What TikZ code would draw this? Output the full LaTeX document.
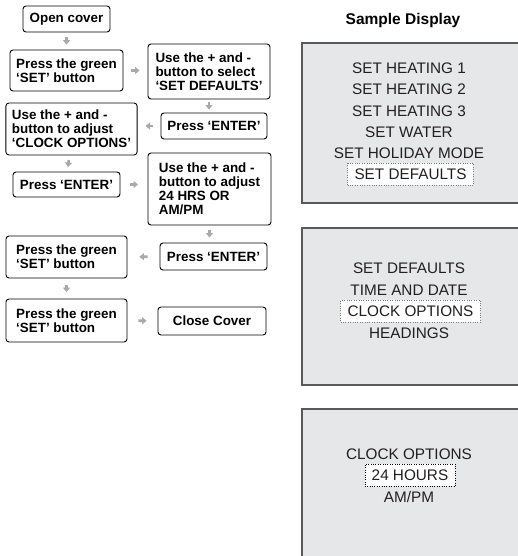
\documentclass[tikz,border=0pt]{standalone}
\usepackage{fontspec}
\setmainfont{Liberation Sans}
\usetikzlibrary{arrows.meta}

\definecolor{arrowgrey}{HTML}{A7A9AC}
\definecolor{screengrey}{HTML}{E6E7E8}
\definecolor{framegrey}{HTML}{58595B}
\definecolor{lcdtext}{HTML}{231F20}

\tikzset{
  stepbox/.style={draw, rounded corners=3pt, line width=0.9pt,
    font=\fontsize{13.4}{14}\selectfont\bfseries, align=left,
    inner xsep=6pt, inner ysep=0pt},
  flow/.style={arrowgrey, line width=2.6pt, -{Triangle[width=7pt,length=4.5pt]},
    shorten <=#1, shorten >=#1},
  screen/.style={draw=framegrey, fill=screengrey, line width=1.1pt},
  lcd/.style={font=\fontsize{15.3}{18}\selectfont, text=lcdtext,
    text height=11pt, text depth=0pt, inner sep=0pt},
  picked/.style={lcd, fill=white, draw=gray, dotted, inner xsep=7pt, minimum height=22pt}
}

\begin{document}
\begin{tikzpicture}[x=1pt, y=-1pt]
        \useasboundingbox (0,0) rectangle (518,556);

        % Steps on the left
        \node[stepbox, minimum width=87pt, minimum height=26pt] (open) at (66.5,19) {Open cover};
        \node[stepbox, minimum width=113pt, minimum height=41pt] (green1) at (66.5,70.5) {Press the green\\‘SET’ button};
        \node[stepbox, minimum width=122pt, minimum height=55pt] (select) at (209,71.5) {Use the + and -\\button to select\\‘SET DEFAULTS’};
        \node[stepbox, minimum width=106pt, minimum height=26pt] (enter1) at (214,126) {Press ‘ENTER’};
        \node[stepbox, minimum width=129pt, minimum height=52pt] (adjclock) at (71.5,129) {Use the + and -\\button to adjust\\‘CLOCK OPTIONS’};
        \node[stepbox, minimum width=107pt, minimum height=25pt] (enter2) at (66.5,184.5) {Press ‘ENTER’};
        \node[stepbox, minimum width=123pt, minimum height=72pt] (adj24) at (209.5,189) {Use the + and -\\button to adjust\\24 HRS OR\\AM/PM};
        \node[stepbox, minimum width=107pt, minimum height=27pt] (enter3) at (213.5,256.5) {Press ‘ENTER’};
        \node[stepbox, minimum width=121pt, minimum height=42pt] (green2) at (66.5,257) {Press the green\\‘SET’ button};
        \node[stepbox, minimum width=121pt, minimum height=43pt] (green3) at (66.5,320.5) {Press the green\\‘SET’ button};
        \node[stepbox, minimum width=108pt, minimum height=28pt] (close) at (212,321) {Close Cover};

        % Small grey arrows between the steps
        \draw[flow=5pt] (open) -- (green1);
        \draw[flow=8pt] (green1.east) -- (green1.east -| select.west);
        \draw[flow=3pt] (select.south) -- (select.south |- enter1.north);
        \draw[flow=8pt] (enter1.west) -- (enter1.west -| adjclock.east);
        \draw[flow=4.5pt] (adjclock) -- (enter2);
        \draw[flow=9.5pt] (enter2.east) -- (enter2.east -| adj24.west);
        \draw[flow=5pt] (adj24.south) -- (adj24.south |- enter3.north);
        \draw[flow=12pt] (enter3) -- (green2);
        \draw[flow=6.5pt] (green2) -- (green3);
        \draw[flow=11pt] (green3) -- (close);

        % Sample display screens on the right
        \node[font=\fontsize{15.5}{18}\selectfont\bfseries] (title) at (403,20) {Sample Display};

        \draw[screen] (302,43) rectangle (525,203);
        \node[lcd] (m1a) at (409,68) {SET HEATING 1};
        \node[lcd] (m1b) at (409,89) {SET HEATING 2};
        \node[lcd] (m1c) at (409,111) {SET HEATING 3};
        \node[lcd] (m1d) at (409,132) {SET WATER};
        \node[lcd] (m1e) at (409,153) {SET HOLIDAY MODE};
        \node[picked] (m1f) at (410.5,174) {SET DEFAULTS};

        \draw[screen] (302,228) rectangle (525,385);
        \node[lcd] (m2a) at (409,268) {SET DEFAULTS};
        \node[lcd] (m2b) at (409,290) {TIME AND DATE};
        \node[picked] (m2c) at (410.5,311) {CLOCK OPTIONS};
        \node[lcd] (m2d) at (409,333) {HEADINGS};

        \draw[screen] (302,409) rectangle (525,565);
        \node[lcd] (m3a) at (409,454) {CLOCK OPTIONS};
        \node[picked, draw=black] (m3b) at (410,475) {24 HOURS};
        \node[lcd] (m3c) at (409,497) {AM/PM};
\end{tikzpicture}
\end{document}
